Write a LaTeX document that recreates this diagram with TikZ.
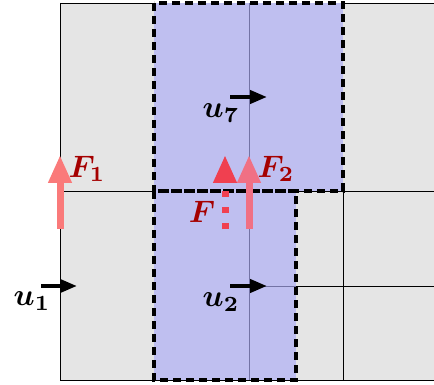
\documentclass[tikz,border=0pt]{standalone}
\usepackage{amsmath,bm}
\usetikzlibrary{arrows.meta}
\definecolor{cellgray}{RGB}{229,229,229}
\definecolor{cellblue}{RGB}{191,191,240}
\definecolor{innerline}{RGB}{115,115,165}
\definecolor{labred}{RGB}{165,0,0}
\definecolor{fonec}{RGB}{250,122,122}
\definecolor{ftwoc}{RGB}{240,112,132}
\definecolor{fc}{RGB}{240,64,80}
\newcommand{\biglab}[1]{\scalebox{3.1}{$#1$}}
\begin{document}
\begin{tikzpicture}[x=1pt,y=-1pt,
  gridline/.style={line width=0.7pt,black},
  inline/.style={line width=0.9pt,innerline},
  dashbox/.style={line width=3.8pt,black,dash pattern=on 8pt off 5pt},
  uarrow/.style={line width=4pt,black,-{Triangle[length=17pt,width=13pt]}},
  farrow/.style={line width=7pt,-{Triangle[length=28pt,width=22pt]}},
  lab/.style={inner sep=0pt},
  flab/.style={lab,text=labred}]
\useasboundingbox (0,0) rectangle (434,385);
% background cells
\fill[cellgray] (60,3) rectangle (434,380);
\draw[gridline] (60,3) -- (434,3);
\draw[gridline] (60,191) -- (434,191);
\draw[gridline] (60,380) -- (434,380);
\draw[gridline] (60,3) -- (60,380);
\draw[gridline] (343,191) -- (343,380);
\draw[gridline] (296,286) -- (434,286);
% blue regions
\fill[cellblue] (154,3) rectangle (343,191);
\fill[cellblue] (154,191) rectangle (296,380);
\draw[inline] (249,3) -- (249,380);
\draw[inline] (249,286) -- (296,286);
% dashed boxes
\draw[dashbox] (154,3) rectangle (343,191);
\draw[dashbox] (154,191) rectangle (296,380);
% velocity arrows
\coordinate (u1s) at (41,286); \coordinate (u1e) at (77,286);
\coordinate (u2s) at (230,286); \coordinate (u2e) at (267,286);
\coordinate (u7s) at (230,97); \coordinate (u7e) at (267,97);
\draw[uarrow] (u1s) -- (u1e);
\draw[uarrow] (u2s) -- (u2e);
\draw[uarrow] (u7s) -- (u7e);
\node[lab] (lu1) at (32,301) {\biglab{\bm{u_1}}};
\node[lab] (lu2) at (221,302) {\biglab{\bm{u_2}}};
\node[lab] (lu7) at (221,113) {\biglab{\bm{u_7}}};
% force arrows
\coordinate (f1s) at (60,229); \coordinate (f1e) at (60,155);
\coordinate (f2s) at (249,229); \coordinate (f2e) at (249,155);
\coordinate (fs) at (225,229); \coordinate (fe) at (225,155);
\draw[farrow,fonec] (f1s) -- (f1e);
\draw[farrow,ftwoc] (f2s) -- (f2e);
\draw[farrow,fc,dash pattern=on 6pt off 10pt] (fs) -- (fe);
\node[flab] (lf1) at (87,169) {\biglab{\bm{F_1}}};
\node[flab] (lf2) at (276,169) {\biglab{\bm{F_2}}};
\node[flab] (lf) at (202,212) {\biglab{\bm{F}}};
\end{tikzpicture}
\end{document}
